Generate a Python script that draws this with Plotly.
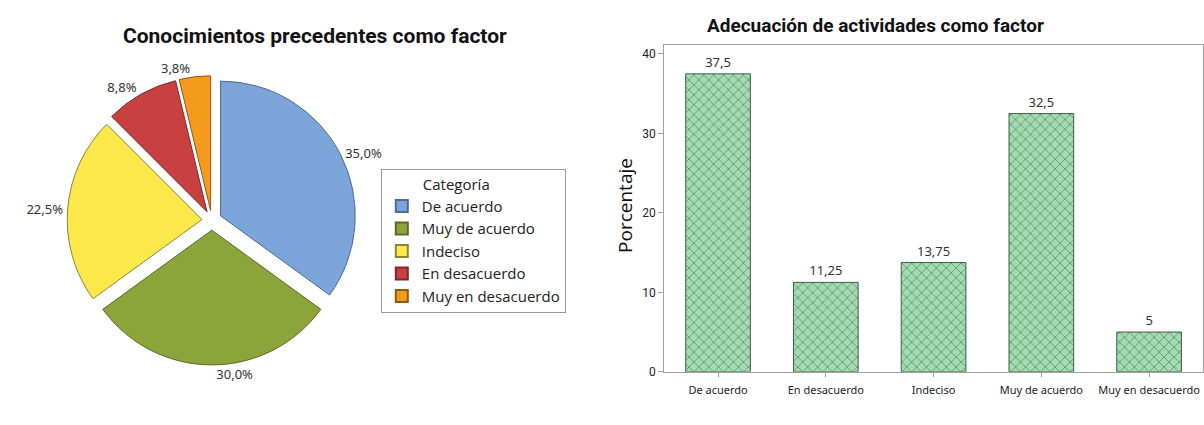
import plotly.graph_objects as go

# ---- data ----
pie_labels = ["De acuerdo", "Muy de acuerdo", "Indeciso", "En desacuerdo", "Muy en desacuerdo"]
pie_values = [35.0, 30.0, 22.5, 8.75, 3.75]
pie_colors = ["#7BA4D8", "#8CA53B", "#FBE84B", "#C8403F", "#F49A1C"]
pie_line_colors = ["#4F6A8F", "#5A6B25", "#8F8530", "#7D2A2A", "#8F5A12"]

bar_categories = ["De acuerdo", "En desacuerdo", "Indeciso", "Muy de acuerdo", "Muy en desacuerdo"]
bar_values = [37.5, 11.25, 13.75, 32.5, 5]
y_ticks = [0, 10, 20, 30, 40]

W, H = 1204, 425
def px(x):
    return x / W
def py(y):
    return (H - y) / H

total = sum(pie_values)
pie_text = [f"{100 * v / total:.1f}".replace(".", ",") + "%" for v in pie_values]

fig = go.Figure()

# pie: centre (206,224), radius ~137, pull 10px
pull = 0.073
r = 137
half = r * (1 + pull)
cx, cy = 207, 224
fig.add_trace(go.Pie(
    labels=pie_labels,
    values=pie_values,
    sort=False,
    direction="clockwise",
    rotation=0,
    pull=[pull] * len(pie_values),
    text=pie_text,
    textinfo="text",
    textposition="outside",
    outsidetextfont=dict(family="Noto Sans, Open Sans, sans-serif", size=13, color="#333333"),
    marker=dict(colors=pie_colors, line=dict(color=pie_line_colors, width=1)),
    domain=dict(x=[px(cx - half), px(cx + half)], y=[py(cy + half), py(cy - half)]),
    hoverinfo="label+percent",
    showlegend=True,
))

fig.add_trace(go.Bar(
    x=bar_categories,
    y=bar_values,
    xaxis="x",
    yaxis="y",
    showlegend=False,
    texttemplate="%{y}",
    textposition="outside",
    cliponaxis=False,
    textfont=dict(family="Noto Sans, Open Sans, sans-serif", size=13, color="#333333"),
    marker=dict(
        color="#A4DCB2",
        line=dict(color="#3E5E45", width=1),
        pattern=dict(shape="x", fgcolor="#2A5535", bgcolor="#A4DCB2", size=7, solidity=0.25),
    ),
))

fig.update_layout(
    width=W, height=H,
    margin=dict(l=0, r=0, t=0, b=0),
    paper_bgcolor="white",
    plot_bgcolor="white",
    separators=",.",
    bargap=0.4,
    legend=dict(
        x=px(377), y=py(172), xanchor="left", yanchor="top",
        bordercolor="#9A9A9A", borderwidth=1, bgcolor="white",
        font=dict(family="Open Sans, Noto Sans, sans-serif", size=15, color="#222222"),
        title=dict(text="\u00a0" * 10 + "Categoría",
                   font=dict(family="Open Sans, Noto Sans, sans-serif", size=15, color="#222222")),
        tracegroupgap=0,
        itemsizing="constant",
    ),
    xaxis=dict(
        domain=[px(662), 1.0],
        range=[-0.5, 4.5],
        showline=True, linecolor="#A0A0A0", linewidth=1, mirror=True,
        ticks="outside", ticklen=4, tickcolor="#A0A0A0",
        ticklabelstandoff=4,
        tickfont=dict(family="Noto Sans, Open Sans, sans-serif", size=11, color="#222222"),
        showgrid=False, zeroline=False,
    ),
    yaxis=dict(
        domain=[py(378), py(46)],
        range=[0, 41.1],
        tickvals=y_ticks,
        showline=True, linecolor="#A0A0A0", linewidth=1, mirror=True,
        ticks="outside", ticklen=5, tickcolor="#A0A0A0",
        tickfont=dict(family="Roboto, Noto Sans, sans-serif", size=12, color="#222222"),
        showgrid=False, zeroline=False,
    ),
    annotations=[
        dict(text="<b>Conocimientos precedentes como factor</b>", x=px(311), y=py(37),
             xref="paper", yref="paper", showarrow=False, xanchor="center", yanchor="middle",
             font=dict(family="Roboto, Liberation Sans, sans-serif", size=21, color="#111111")),
        dict(text="<b>Adecuación de actividades como factor</b>", x=px(875), y=py(26),
             xref="paper", yref="paper", showarrow=False, xanchor="center", yanchor="middle",
             font=dict(family="Roboto, Liberation Sans, sans-serif", size=19, color="#111111")),
        dict(text="Porcentaje", x=px(622), y=py(209), textangle=-90,
             xref="paper", yref="paper", showarrow=False, xanchor="center", yanchor="middle",
             font=dict(family="Open Sans, Noto Sans, sans-serif", size=19, color="#111111")),
    ],
)

fig.write_html(
    "out.html",
    config={"displayModeBar": False},
    post_script="document.body.style.margin='0';document.body.style.overflow='hidden';",
)
